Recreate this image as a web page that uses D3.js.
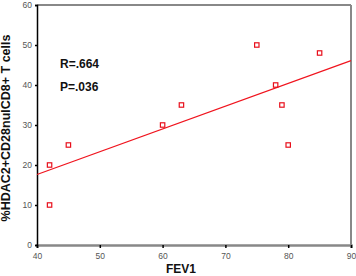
<!DOCTYPE html>
<html><head><meta charset="utf-8">
<script src="https://cdn.jsdelivr.net/npm/d3@7"></script>
<style>body{margin:0;background:#fff}svg{display:block}</style>
</head><body>
<script>
const fev1 = [42, 42, 45, 60, 63, 75, 78, 79, 80, 85];
const hdac = [10, 20, 25, 30, 35, 50, 40, 35, 25, 48];
const xTicks = [40, 50, 60, 70, 80, 90];
const yTicks = [0, 10, 20, 30, 40, 50, 60];
const statLabels = ["R=.664", "P=.036"];
const xTitle = "FEV1";
const yTitle = "%HDAC2+CD28nulCD8+ T cells";

const W = 356, H = 276;
const m = {l: 37, r: 5, t: 5, b: 31};
const svg = d3.select("body").append("svg").attr("width", W).attr("height", H);
const x = d3.scaleLinear().domain([40, 90]).range([m.l, W - m.r]);
const y = d3.scaleLinear().domain([0, 60]).range([H - m.b, m.t]);

// frame
svg.append("line").attr("x1", m.l).attr("x2", W - m.r).attr("y1", y(60)).attr("y2", y(60)).attr("stroke", "#888").attr("stroke-width", 2);
svg.append("line").attr("x1", W - m.r).attr("x2", W - m.r).attr("y1", y(60)).attr("y2", y(0)).attr("stroke", "#888").attr("stroke-width", 2);

const xa = svg.append("g").attr("transform", `translate(0,${y(0)})`)
  .call(d3.axisBottom(x).tickValues(xTicks).tickSize(3).tickPadding(5));
xa.select(".domain").attr("stroke", "#888").attr("stroke-width", 2.5);
xa.selectAll(".tick line").attr("stroke", "#000").attr("stroke-width", 1.5);
xa.selectAll("text").attr("fill", "#555").style("font-family", "Arial, Liberation Sans, sans-serif").style("font-size", "8.5px");

const ya = svg.append("g").attr("transform", `translate(${m.l},0)`)
  .call(d3.axisLeft(y).tickValues(yTicks).tickSize(2).tickPadding(3));
ya.select(".domain").attr("stroke", "#000").attr("stroke-width", 1.5);
ya.selectAll(".tick line").attr("stroke", "#000").attr("stroke-width", 1.5);
ya.selectAll("text").attr("fill", "#555").style("font-family", "Arial, Liberation Sans, sans-serif").style("font-size", "8.5px");

// regression line (least squares from the data)
const mx = d3.mean(fev1), my = d3.mean(hdac);
const slope = d3.sum(fev1, (v, i) => (v - mx) * (hdac[i] - my)) / d3.sum(fev1, v => (v - mx) ** 2);
const icpt = my - slope * mx;
svg.append("line")
  .attr("x1", x(40)).attr("y1", y(icpt + slope * 40))
  .attr("x2", x(90)).attr("y2", y(icpt + slope * 90))
  .attr("stroke", "#f0141e").attr("stroke-width", 1.2);

// points
svg.selectAll("rect.pt").data(fev1).enter().append("rect")
  .attr("x", (d) => x(d) - 2.2).attr("y", (d, i) => y(hdac[i]) - 2.2)
  .attr("width", 4.4).attr("height", 4.4)
  .attr("fill", "none").attr("stroke", "#e8101c").attr("stroke-width", 1.2);

// stats
svg.selectAll("text.stat").data(statLabels).enter().append("text")
  .attr("x", 60).attr("y", (d, i) => 68 + i * 23)
  .text(d => d)
  .style("font-family", "Arial, Liberation Sans, sans-serif").style("font-weight", "bold").style("font-size", "12px").attr("fill", "#111");

svg.append("text").attr("x", 181).attr("y", 273).attr("text-anchor", "middle")
  .text(xTitle).style("font-family", "Arial, Liberation Sans, sans-serif").style("font-weight", "bold").style("font-size", "12px").attr("fill", "#111");

svg.append("text").attr("transform", `translate(10,128) rotate(-90)`).attr("text-anchor", "middle")
  .text(yTitle).style("font-family", "Arial, Liberation Sans, sans-serif").style("font-weight", "bold").style("font-size", "12.5px").attr("fill", "#111");
</script>
</body></html>
